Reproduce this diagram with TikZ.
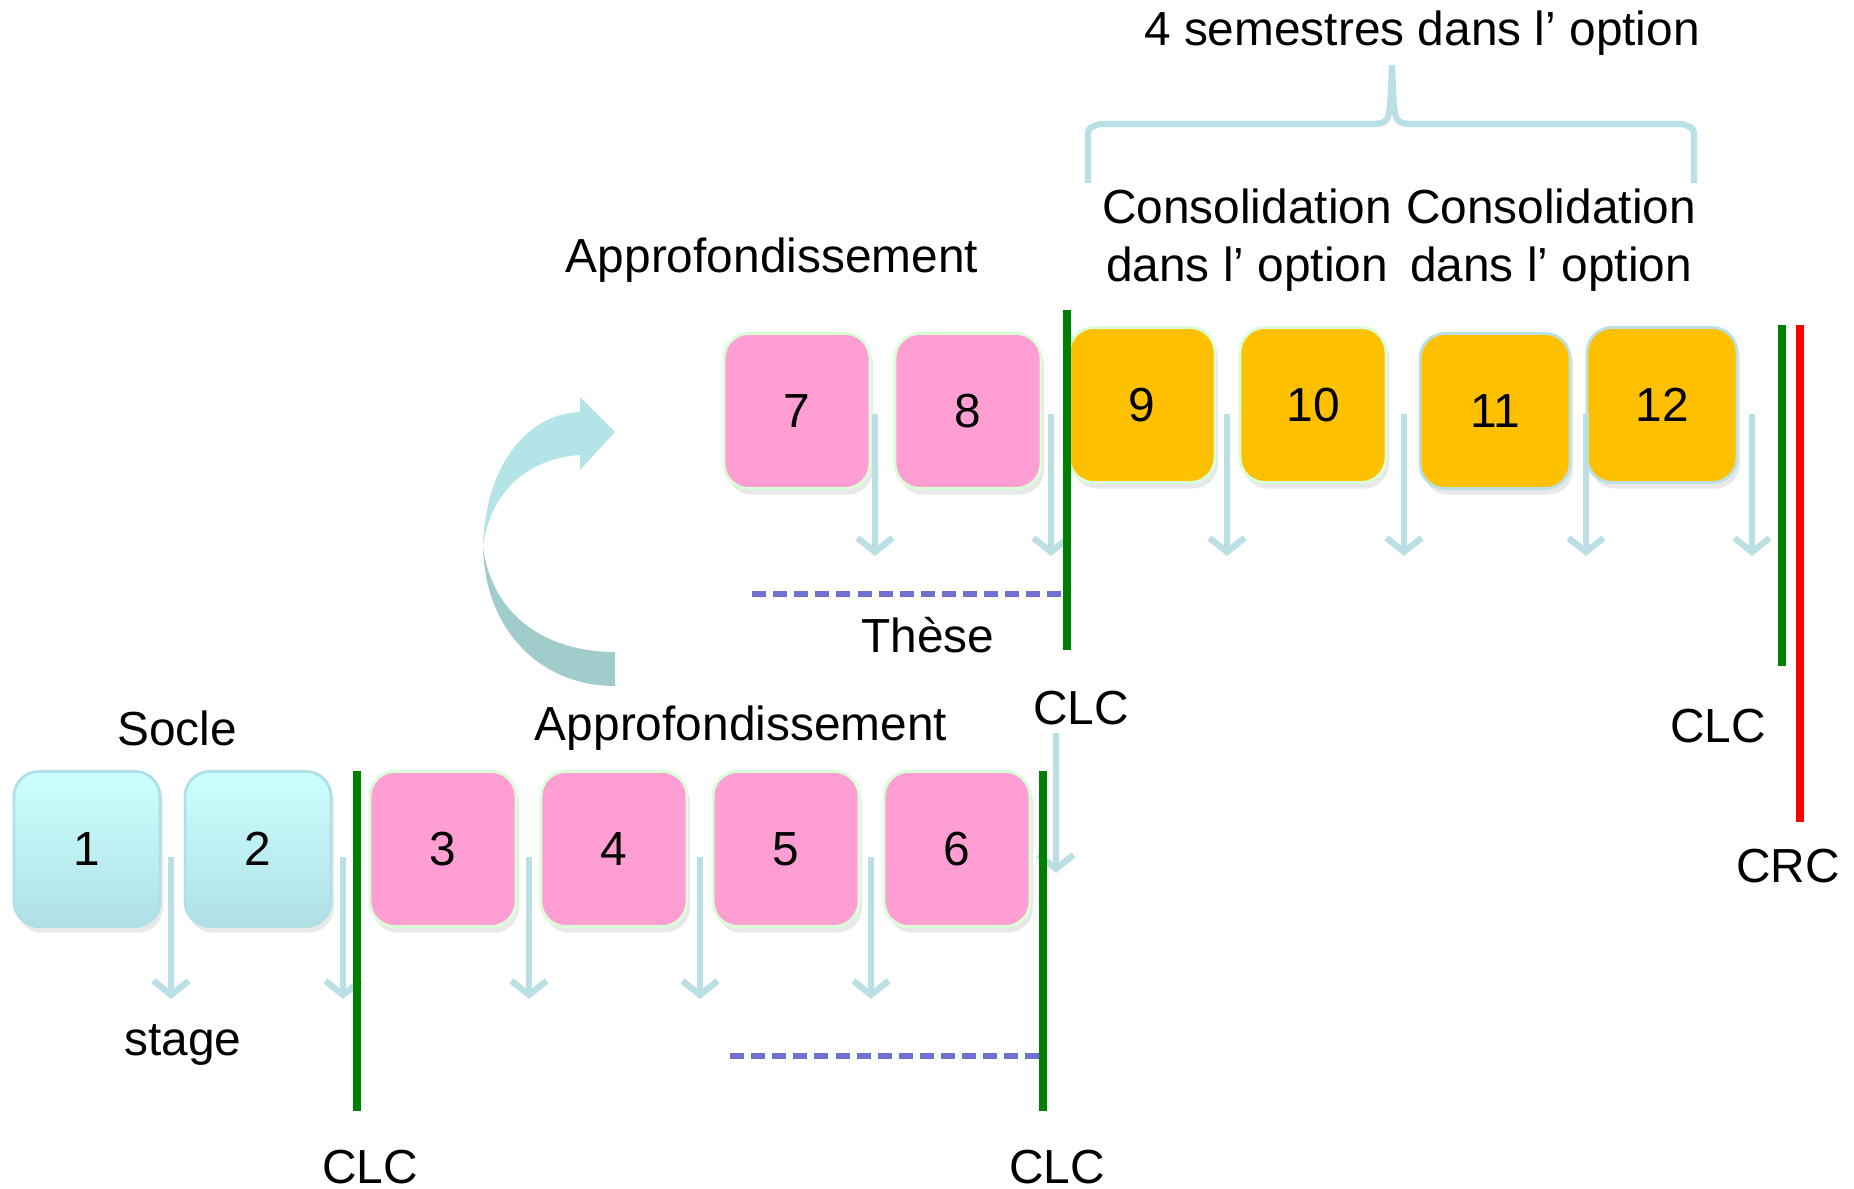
\documentclass[tikz,border=0pt]{standalone}
\usepackage{fontspec}
\setmainfont{Liberation Sans}
\usepackage{tikz}
\usetikzlibrary{arrows.meta, shadows}
\definecolor{soclecolor}{RGB}{204, 255, 255}
\definecolor{soclebottom}{RGB}{176, 224, 230}
\definecolor{approcolor}{RGB}{255, 158, 210}
\definecolor{optioncolor}{RGB}{255, 192, 0}
\definecolor{flowcolor}{RGB}{186, 224, 230}
\definecolor{thesecolor}{RGB}{112, 112, 208}
\definecolor{clcgreen}{RGB}{0, 128, 0}
\definecolor{crcred}{RGB}{255, 0, 0}
\definecolor{turntop}{RGB}{180, 228, 232}
\definecolor{turnbottom}{RGB}{160, 204, 204}

\begin{document}
\begin{tikzpicture}[x=0.01cm, y=-0.01cm,
    every node/.style={font=\fontsize{13.6}{16.5}\selectfont},
    semester/.style={rounded corners=0.25cm, minimum width=1.46cm, minimum height=1.55cm, line width=0.8pt,
        drop shadow={opacity=0.18, shadow xshift=0.03cm, shadow yshift=-0.06cm}},
    flow/.style={draw=flowcolor, line width=1.8pt, -{Straight Barb[length=4pt, width=10pt]}},
    clcline/.style={draw=clcgreen, line width=2.2pt},
    thesedash/.style={draw=thesecolor, line width=1.9pt, dash pattern=on 4pt off 2pt}]
    \useasboundingbox (0, 0) rectangle (1854, 1189);

    % Curved arrow
    \fill[turnbottom] (483, 547) .. controls (485, 630) and (540, 686) .. (615, 686)
        -- (615, 652) .. controls (545, 652) and (492, 615) .. (483, 547) -- cycle;
    \fill[turntop] (483, 547) .. controls (485, 468) and (525, 414) .. (580, 412)
        -- (580, 397) -- (615, 432) -- (580, 470) -- (580, 455)
        .. controls (530, 458) and (490, 490) .. (483, 547) -- cycle;

    % Bottom row
    \node[semester, top color=soclecolor, bottom color=soclebottom, draw=soclebottom] (s1) at (87, 849) {1};
    \node[semester, top color=soclecolor, bottom color=soclebottom, draw=soclebottom] (s2) at (258, 849) {2};
    \node[semester, fill=approcolor, draw=green!15] (s3) at (443, 849) {3};
    \node[semester, fill=approcolor, draw=green!15] (s4) at (614, 849) {4};
    \node[semester, fill=approcolor, draw=green!15] (s5) at (786, 849) {5};
    \node[semester, fill=approcolor, draw=green!15] (s6) at (957, 849) {6};

    % Top row
    \node[semester, fill=approcolor, draw=green!15] (s7) at (797, 411) {7};
    \node[semester, fill=approcolor, draw=green!15] (s8) at (968, 411) {8};
    \node[semester, fill=optioncolor, draw=green!15] (s9) at (1142, 405) {9};
    \node[semester, fill=optioncolor, draw=green!15] (s10) at (1313, 405) {10};
    \node[semester, fill=optioncolor, draw=flowcolor, minimum width=1.5cm] (s11) at (1495, 411) {11};
    \node[semester, fill=optioncolor, draw=flowcolor, minimum width=1.5cm] (s12) at (1662, 405) {12};

    % Arrows down
    \foreach \x in {171, 343, 529, 700, 871}
        \draw[flow] (\x, 857) -- (\x, 999);
    \foreach \x in {875, 1051, 1227, 1404, 1586, 1752}
        \draw[flow] (\x, 414) -- (\x, 556);
    \draw[flow] (1056, 733) -- (1056, 873);

    % Thesis
    \draw[thesedash] (730, 1056) -- (1043, 1056);
    \draw[thesedash] (752, 594) -- (1067, 594);

    % CLC / CRC lines
    \draw[clcline] (357, 771) -- (357, 1111);
    \draw[clcline] (1043, 771) -- (1043, 1111);
    \draw[clcline] (1067, 310) -- (1067, 650);
    \draw[clcline] (1782, 325) -- (1782, 666);
    \draw[draw=crcred, line width=2.2pt] (1800, 325) -- (1800, 822);

    % Brace
    \draw[draw=flowcolor, line width=1.8pt] (1088, 183) -- (1088, 138) .. controls (1088, 128) .. (1100, 124)
        -- (1376, 124) .. controls (1390, 122) .. (1392, 65) .. controls (1394, 122) .. (1408, 124)
        -- (1682, 124) .. controls (1694, 128) .. (1694, 138) -- (1694, 183);

    % Labels
    \node (socle) at (177, 728) {Socle};
    \node (approbas) at (741, 728) {Approfondissement};
    \node (stage) at (183, 1045) {stage};
    \node (clcone) at (370, 1167) {CLC};
    \node (clctwo) at (1057, 1167) {CLC};
    \node (clcthree) at (1081, 708) {CLC};
    \node (these) at (928, 635) {Thèse};
    \node (approhaut) at (772, 260) {Approfondissement};
    \node[align=center] (consoa) at (1247, 240) {Consolidation\\dans l’ option};
    \node[align=center] (consob) at (1551, 240) {Consolidation\\dans l’ option};
    \node (semestres) at (1422, 33) {4 semestres dans l’ option};
    \node (clcfour) at (1718, 726) {CLC};
    \node (crc) at (1788, 866) {CRC};
\end{tikzpicture}
\end{document}
